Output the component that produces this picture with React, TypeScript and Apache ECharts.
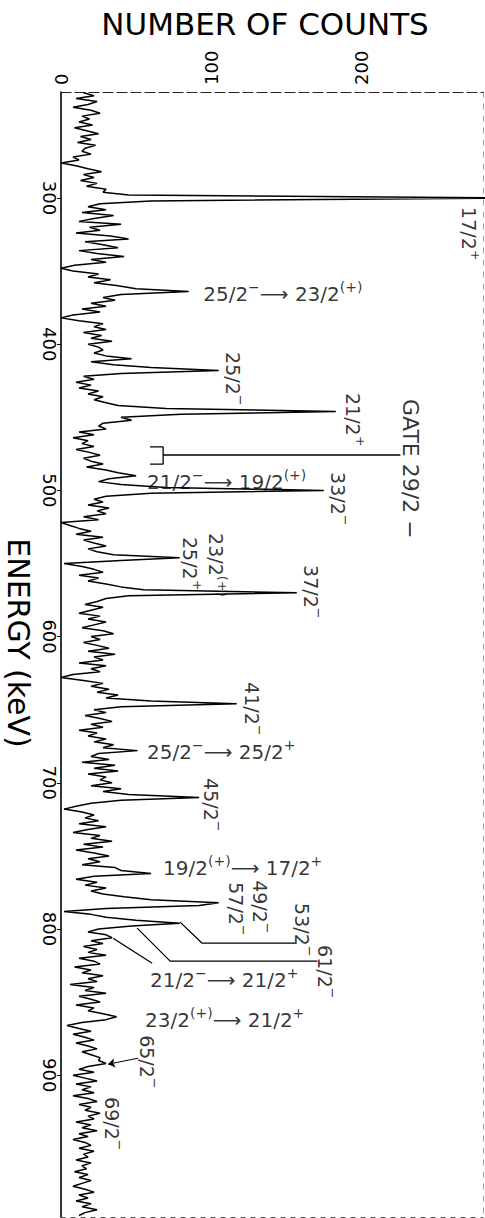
import React, { useEffect, useRef } from "react";
import * as echarts from "echarts";

// gamma-ray spectrum, one value every 2 keV starting at 228 keV
const channelStartKeV = 228;
const channelWidthKeV = 2;
const counts: number[] = [
  15, 22, 10, 24, 18, 8, 20, 26, 14, 19,
  12, 21, 9, 17, 25, 13, 20, 11, 23, 16,
  14, 20, 8, 12, 0, 10, 18, 27, 15, 22,
  13, 24, 17, 30, 28, 45, 300, 60, 26, 18,
  30, 14, 35, 22, 12, 40, 19, 26, 10, 33,
  45, 16, 28, 38, 12, 24, 42, 20, 30, 9,
  0, 8, 25, 18, 33, 22, 38, 50, 85, 40,
  28, 36, 20, 30, 14, 26, 8, 0, 12, 28,
  22, 30, 15, 27, 20, 34, 18, 25, 28, 22,
  30, 47, 20, 35, 60, 105, 40, 15, 22, 10,
  20, 12, 25, 18, 28, 22, 30, 38, 70, 183,
  80, 40, 47, 28, 25, 30, 12, 22, 8, 18,
  14, 22, 10, 19, 26, 15, 20, 28, 17, 30,
  38, 50, 32, 25, 40, 70, 175, 60, 30, 22,
  28, 18, 32, 24, 30, 15, 25, 0, 6, 12,
  20, 10, 28, 15, 22, 30, 18, 24, 35, 79,
  40, 2, 14, 22, 28, 12, 25, 18, 30, 40,
  55, 157, 45, 30, 24, 16, 28, 20, 12, 26,
  18, 30, 22, 14, 28, 35, 20, 26, 15, 24,
  32, 18, 36, 22, 28, 12, 30, 20, 26, 8,
  0, 15, 28, 20, 32, 24, 38, 30, 60, 117,
  40, 22, 30, 16, 26, 34, 20, 28, 12, 24,
  18, 30, 22, 35, 28, 51, 25, 20, 32, 14,
  36, 22, 38, 18, 30, 26, 34, 20, 40, 28,
  45, 92, 40, 20, 10, 2, 14, 22, 16, 25,
  12, 30, 18, 8, 26, 20, 34, 15, 28, 10,
  22, 32, 18, 26, 14, 36, 40, 60, 22, 10,
  24, 16, 30, 20, 28, 42, 60, 105, 92, 30,
  2, 20, 30, 50, 79, 47, 25, 18, 30, 34,
  20, 28, 15, 24, 18, 30, 12, 22, 26, 9,
  20, 14, 28, 18, 24, 6, 22, 16, 30, 12,
  20, 26, 10, 22, 18, 28, 37, 30, 14, 4,
  12, 20, 8, 16, 22, 10, 18, 24, 14, 20,
  26, 25, 30, 18, 12, 22, 8, 16, 24, 10,
  20, 14, 22, 8, 18, 24, 12, 20, 16, 26,
  18, 22, 10, 20, 14, 24, 12, 18, 8, 16,
  20, 12, 22, 15, 18, 10, 20, 14, 17, 9,
  18, 12, 20, 14, 8, 16, 22, 12, 18, 10,
  20, 14, 24, 16, 12,
];

const energyTicks = [300, 400, 500, 600, 700, 800, 900];
const countTicks = [0, 100, 200];
const energyMin = 227.5;
const energyMax = 997;
const countMax = 281;

// labels: text with ^...^ marking superscripts, counts, energy
// rotated peak labels (anchored at the top of the text)
const rotatedLabels: [string, number, number][] = [
  ["17/2^+^", 272.7, 306.2],
  ["25/2^−^", 116, 405.4],
  ["21/2^+^", 196, 433.4],
  ["33/2^−^", 186, 487.5],
  ["23/2^(+)^", 104.5, 529.2],
  ["25/2^+^", 87.5, 531.9],
  ["37/2^−^", 168, 551.1],
  ["41/2^−^", 128.7, 631.1],
  ["45/2^−^", 101.3, 696.8],
  ["57/2^−^", 118, 768],
  ["49/2^−^", 134, 766.6],
  ["53/2^−^", 162, 782.3],
  ["61/2^−^", 177.3, 811],
  ["65/2^−^", 58.7, 872.6],
  ["69/2^−^", 35.3, 915],
];
const gateLabel: [string, number, number][] = [["GATE 29/2 −", 234, 437.5]];

// horizontal transition labels (anchored at left, middle)
const transitionLabels: [string, number, number][] = [
  ["25/2^−^⟶ 23/2^(+)^", 94.7, 364.3],
  ["21/2^−^⟶ 19/2^(+)^", 57.3, 492.9],
  ["25/2^−^⟶ 25/2^+^", 57.3, 677.6],
  ["19/2^(+)^⟶ 17/2^+^", 68, 757],
  ["21/2^−^⟶ 21/2^+^", 59.3, 833.6],
  ["23/2^(+)^⟶ 21/2^+^", 56, 861],
];

// leader lines: [counts, energy]
const gateBracket: [number, number][] = [[59.3, 470.3], [68, 470.3], [68, 482], [59.3, 482]];
const gateLine: [number, number][] = [[68, 475.8], [226, 475.8]];
const leader53: [number, number][] = [[79.3, 795.3], [94, 809.7], [156, 809.7]];
const leader61: [number, number][] = [[50.7, 799.4], [72.7, 822], [170.7, 822]];
const leader21: [number, number][] = [[34.7, 806.3], [60.7, 823.4]];
const arrow65: [number, number][] = [[51.3, 888.4], [31.3, 892.5]];

const FONT = "DejaVu Sans";
const INK = "#000";

function toRich(text: string): string {
  const parts = text.split("^");
  return parts
    .map((p, i) => (p === "" ? "" : i % 2 === 0 ? `{n|${p}}` : `{s|${p}}`))
    .join("");
}

export default function App() {
  const ref = useRef<HTMLDivElement>(null);
  useEffect(() => {
    if (!ref.current) return;
    const chart = echarts.init(ref.current, undefined, { renderer: "svg" });
    const spectrum = counts.map((c, i) => [c, channelStartKeV + i * channelWidthKeV]);
    const leaderSeries = [gateBracket, gateLine, leader53, leader61, leader21].map((pts) => ({
      type: "line",
      data: pts,
      symbol: "none",
      silent: true,
      clip: false,
      lineStyle: { color: INK, width: 1.3 },
      z: 3,
    }));
    const labelSeries = (items: [string, number, number][], rotate: number, fontSize: number) => ({
      type: "scatter",
      symbolSize: 1,
      silent: true,
      itemStyle: { color: "rgba(0,0,0,0)" },
      data: items.map(([t, c, e]) => ({ name: t, value: [c, e] })),
      label: {
        show: true,
        formatter: (p: any) => toRich(p.name),
        position: "inside",
        rotate,
        align: "left",
        verticalAlign: "middle",
        fontSize,
        fontFamily: FONT,
        color: INK,
        rich: {
          n: { fontSize, fontFamily: FONT, color: INK, lineHeight: fontSize + 4, verticalAlign: "bottom" },
          s: {
            fontSize: Math.round(fontSize * 0.68),
            fontFamily: FONT,
            color: INK,
            lineHeight: fontSize + 4,
            verticalAlign: "top",
          },
        },
      },
      z: 4,
    });
    chart.setOption({
      animation: false,
      backgroundColor: "#fff",
      textStyle: { fontFamily: FONT },
      grid: { left: 61, top: 92, right: 2, bottom: 1 },
      xAxis: [
        {
          type: "value",
          position: "top",
          min: 0,
          max: countMax,
          axisLine: { show: true, onZero: false, lineStyle: { color: "#222", width: 1.2, type: [10, 4] } },
          axisTick: { show: false },
          splitLine: { show: false },
          axisLabel: {
            customValues: countTicks,
            rotate: -90,
            margin: 7,
            fontSize: 18,
            color: INK,
            fontFamily: FONT,
          },
        },
        {
          type: "value",
          position: "bottom",
          min: 0,
          max: countMax,
          axisLine: { show: true, onZero: false, lineStyle: { color: "#555", width: 1, type: [4, 6] } },
          axisTick: { show: false },
          axisLabel: { show: false },
          splitLine: { show: false },
        },
      ],
      yAxis: [
        {
          type: "value",
          inverse: true,
          min: energyMin,
          max: energyMax,
          axisLine: { show: true, onZero: false, lineStyle: { color: "#000", width: 1.6 } },
          axisTick: { show: true, customValues: energyTicks, length: 4, lineStyle: { color: "#000" } },
          axisLabel: {
            customValues: energyTicks,
            rotate: -90,
            margin: 3,
            fontSize: 18,
            color: INK,
            fontFamily: FONT,
          },
          splitLine: { show: false },
        },
        {
          type: "value",
          inverse: true,
          position: "right",
          min: energyMin,
          max: energyMax,
          axisLine: { show: true, onZero: false, lineStyle: { color: "#999", width: 1, type: [5, 7] } },
          axisTick: { show: false },
          axisLabel: { show: false },
          splitLine: { show: false },
        },
      ],
      graphic: [
        {
          type: "text",
          x: 265,
          y: 24,
          style: {
            text: "NUMBER OF COUNTS",
            fontSize: 31,
            fontFamily: FONT,
            fill: INK,
            align: "center",
            verticalAlign: "middle",
          },
        },
        {
          type: "text",
          x: 18,
          y: 643,
          rotation: -Math.PI / 2,
          style: {
            text: "ENERGY (keV)",
            fontSize: 30,
            fontFamily: FONT,
            fill: INK,
            align: "center",
            verticalAlign: "middle",
          },
        },
      ],
      series: [
        {
          type: "line",
          data: spectrum,
          symbol: "none",
          silent: true,
          clip: true,
          lineStyle: { color: "#000", width: 1.5 },
          z: 2,
          markLine: {
            silent: true,
            symbol: ["none", "arrow"],
            symbolSize: 7,
            label: { show: false },
            lineStyle: { color: INK, width: 1, type: "solid" },
            data: [[{ coord: arrow65[0] }, { coord: arrow65[1] }]],
          },
        },
        ...leaderSeries,
        labelSeries(rotatedLabels, -90, 19),
        labelSeries(gateLabel, -90, 22),
        labelSeries(transitionLabels, 0, 20),
      ],
    });
    return () => chart.dispose();
  }, []);
  return <div ref={ref} style={{ position: "absolute", left: 0, top: 0, width: 485, height: 1218 }} />;
}
